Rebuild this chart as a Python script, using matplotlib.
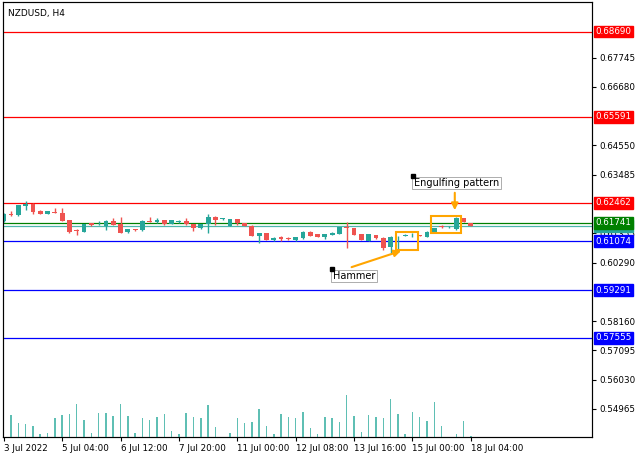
import matplotlib
matplotlib.use("Agg")
import matplotlib.pyplot as plt
from matplotlib.patches import Rectangle
import matplotlib.transforms as mtransforms

opens = [0.61803,0.62058,0.62010,0.62338,0.62421,0.62178,0.62058,0.62130,0.62094,0.61828,
         0.61464,0.61402,0.61719,0.61657,0.61620,0.61792,0.61693,0.61391,0.61512,0.61486,
         0.61814,0.61766,0.61839,0.61693,0.61755,0.61814,0.61682,0.61537,0.61693,0.61959,
         0.61865,0.61631,0.61865,0.61719,0.61631,0.61268,0.61355,0.61111,0.61209,0.61173,
         0.61111,0.61173,0.61413,0.61330,0.61231,0.61293,0.61330,0.61573,0.61537,0.61330,
         0.61086,0.61293,0.61195,0.60868,0.61209,0.61257,0.61282,0.61293,0.61231,0.61413,
         0.61631,0.61573,0.61501,0.61901,0.61719]
highs = [0.62080,0.62156,0.62400,0.62520,0.62440,0.62190,0.62178,0.62276,0.62276,0.61840,
         0.61522,0.61710,0.61730,0.61792,0.61839,0.61912,0.61937,0.61525,0.61525,0.61850,
         0.61937,0.61901,0.61850,0.61850,0.61830,0.61901,0.61690,0.61705,0.62047,0.61970,
         0.61920,0.61880,0.61880,0.61730,0.61640,0.61370,0.61366,0.61210,0.61257,0.61209,
         0.61231,0.61430,0.61430,0.61340,0.61340,0.61390,0.61590,0.61755,0.61550,0.61340,
         0.61340,0.61310,0.61210,0.61250,0.61257,0.61320,0.61355,0.61310,0.61430,0.61550,
         0.61650,0.61610,0.61959,0.61910,0.61730]
lows = [0.61780,0.61977,0.61990,0.62214,0.62069,0.62040,0.62040,0.62080,0.61792,0.61366,
        0.61304,0.61390,0.61630,0.61640,0.61486,0.61650,0.61350,0.61380,0.61450,0.61428,
        0.61750,0.61720,0.61670,0.61680,0.61740,0.61670,0.61439,0.61525,0.61355,0.61668,
        0.61850,0.61620,0.61657,0.61610,0.61257,0.60991,0.61100,0.61090,0.61080,0.61110,
        0.61090,0.61160,0.61257,0.61220,0.61160,0.61280,0.61320,0.60810,0.61280,0.61100,
        0.61070,0.61160,0.60748,0.60628,0.60686,0.61240,0.61231,0.61240,0.61220,0.61360,
        0.61560,0.61560,0.61490,0.61766,0.61610]
closes = [0.62058,0.62021,0.62374,0.62432,0.62130,0.62058,0.62156,0.62094,0.61814,0.61402,
          0.61428,0.61693,0.61646,0.61668,0.61792,0.61668,0.61366,0.61512,0.61464,0.61814,
          0.61766,0.61850,0.61682,0.61839,0.61814,0.61682,0.61537,0.61693,0.61959,0.61839,
          0.61901,0.61865,0.61719,0.61620,0.61268,0.61355,0.61111,0.61195,0.61148,0.61137,
          0.61209,0.61413,0.61268,0.61231,0.61330,0.61377,0.61573,0.61537,0.61293,0.61111,
          0.61330,0.61173,0.60810,0.61231,0.61231,0.61304,0.61293,0.61257,0.61413,0.61537,
          0.61573,0.61596,0.61901,0.61779,0.61620]
volumes = [0,65,43,40,34,8,13,57,65,68,98,52,11,71,71,62,98,62,13,57,52,
           60,68,19,8,71,60,57,95,29,0,11,57,41,46,85,34,10,68,60,57,
           74,27,10,60,57,46,125,62,16,65,60,57,113,68,10,74,60,49,104,32,
           0,10,49,2]
xtick_idx = [0, 8, 16, 24, 32, 40, 48, 56, 64]
xtick_labels = ["3 Jul 2022", "5 Jul 04:00", "6 Jul 12:00", "7 Jul 20:00", "11 Jul 00:00",
                "12 Jul 08:00", "13 Jul 16:00", "15 Jul 00:00", "18 Jul 04:00"]
ytick_vals = [0.67745, 0.66680, 0.64550, 0.63485, 0.61355, 0.60290, 0.58160, 0.57095, 0.56030, 0.54965]
red_levels = [0.68690, 0.65591, 0.62462]
blue_levels = [0.61074, 0.59291, 0.57555]
green_level = 0.61741
bid_level = 0.61620

BULL, BEAR = "#26a69a", "#ef5350"
fig = plt.figure(figsize=(6.4, 4.57), dpi=100)
ax = fig.add_axes([3/640, 20/457, 589/640, 435/457])
ax.set_xlim(-0.1, 80.6)
ax.set_ylim(0.53945, 0.69770)

axv = ax.twinx()
axv.set_ylim(0, 1310)
axv.set_yticks([])
for i, v in enumerate(volumes):
    if v > 0:
        axv.bar(i, v, width=0.2, color="#5fbfb4", linewidth=0)

for i in range(len(opens)):
    o, h, l, c = opens[i], highs[i], lows[i], closes[i]
    col = BULL if c >= o else BEAR
    ax.vlines(i, l, h, color=col, linewidth=1, zorder=3)
    lo = min(o, c); hgt = max(abs(c - o), 0.00008)
    ax.add_patch(Rectangle((i - 0.33, lo), 0.66, hgt, color=col, zorder=4, linewidth=0))

for lv in red_levels:
    ax.axhline(lv, color="#ff0000", linewidth=0.9, zorder=2)
for lv in blue_levels:
    ax.axhline(lv, color="#0000ff", linewidth=0.9, zorder=2)
ax.axhline(green_level, color="#008000", linewidth=0.9, zorder=2)
ax.axhline(bid_level, color="#4db6ac", linewidth=0.9, zorder=2)

ax.yaxis.tick_right()
ax.set_yticks(ytick_vals)
ax.set_yticklabels([f"{v:.5f}" for v in ytick_vals], fontsize=6.3)
ax.tick_params(axis="y", length=3, pad=2)
ax.set_xticks(xtick_idx)
ax.set_xticklabels(xtick_labels, fontsize=6.3, ha="left")
ax.tick_params(axis="x", length=3, pad=2)

trans = mtransforms.blended_transform_factory(ax.transAxes, ax.transData)
def box(v, col):
    ax.text(1.006, v, f"{v:.5f}", transform=trans, fontsize=6.3, color="white", va="center",
            ha="left", bbox=dict(boxstyle="square,pad=0.15", fc=col, ec=col), clip_on=False, zorder=10)
for lv in red_levels:
    box(lv, "#ff0000")
for lv in blue_levels:
    box(lv, "#0000ff")
box(bid_level, "#26a69a")
box(green_level, "#008000")

ax.text(0.008, 0.985, "NZDUSD, H4", transform=ax.transAxes, fontsize=6.5, va="top", ha="left")

OR = "#ffa500"
ax.add_patch(Rectangle((58.6, 0.61366), 4.1, 0.00619, fill=False, ec=OR, lw=1.5, zorder=6))
ax.add_patch(Rectangle((53.8, 0.60748), 3.0, 0.00654, fill=False, ec=OR, lw=1.5, zorder=6))
ax.annotate("", xy=(61.8, 0.62094), xytext=(61.8, 0.62931),
            arrowprops=dict(arrowstyle="-|>", color=OR, lw=1.5, mutation_scale=10), zorder=7)
ax.annotate("", xy=(54.8, 0.60748), xytext=(47.3, 0.60093),
            arrowprops=dict(arrowstyle="-|>", color=OR, lw=1.5, mutation_scale=10), zorder=7)
ax.text(56.2, 0.63185, "Engulfing pattern", fontsize=7, va="center", ha="left",
        bbox=dict(boxstyle="square,pad=0.15", fc="white", ec="#a0a0a0", lw=0.6), zorder=8)
ax.text(45.1, 0.59802, "Hammer", fontsize=7, va="center", ha="left",
        bbox=dict(boxstyle="square,pad=0.15", fc="white", ec="#a0a0a0", lw=0.6), zorder=8)
ax.plot([56.1], [0.63440], marker="s", color="black", ms=3, zorder=9)
ax.plot([45.0], [0.60060], marker="s", color="black", ms=3, zorder=9)

for s in ax.spines.values():
    s.set_color("#404040")
fig.savefig("out.png", dpi=100)
